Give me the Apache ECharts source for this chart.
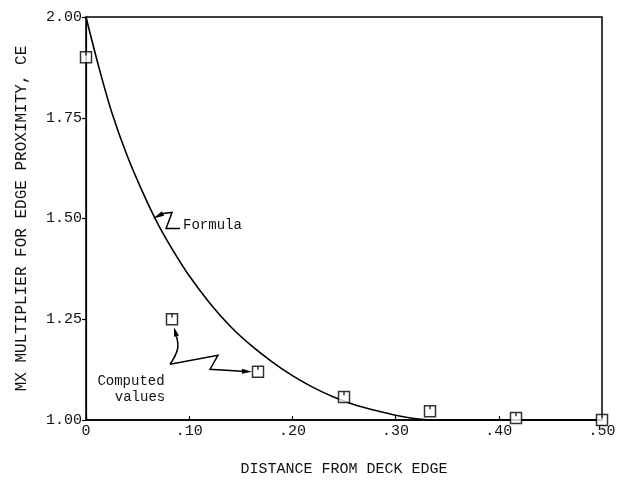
<!DOCTYPE html>
<html>
<head>
<meta charset="utf-8">
<script src="https://cdn.jsdelivr.net/npm/echarts@6/dist/echarts.min.js"></script>
<style>
  html, body { margin: 0; padding: 0; background: #fff; }
  #chart { width: 619px; height: 482px; }
</style>
</head>
<body>
<div id="chart"></div>
<script>
// Edge-proximity multiplier CE versus distance from deck edge
const formulaX = [0, 0.0125, 0.025, 0.04, 0.055, 0.07, 0.085, 0.10, 0.12, 0.14, 0.16, 0.18, 0.20, 0.22, 0.24, 0.26, 0.28, 0.30, 0.32, 0.34, 0.50];
const formulaY = [2.00, 1.875, 1.763, 1.655, 1.565, 1.485, 1.418, 1.358, 1.29, 1.232, 1.185, 1.145, 1.11, 1.081, 1.057, 1.038, 1.024, 1.012, 1.003, 1.00, 1.00];

const computedX = [0, 1 / 12, 2 / 12, 3 / 12, 4 / 12, 5 / 12, 6 / 12];
const computedY = [1.90, 1.25, 1.12, 1.057, 1.022, 1.005, 1.00];

const xTicks = [0, 0.1, 0.2, 0.3, 0.4, 0.5];
const yTicks = [1.00, 1.25, 1.50, 1.75, 2.00];

const FONT = '"Liberation Mono", "DejaVu Sans Mono", monospace';

const chart = echarts.init(document.getElementById('chart'), null, { renderer: 'canvas' });

const squareSymbol = 'path://M0,0L12,0L12,12L0,12Z M6,0.5L6,4';

chart.setOption({
  backgroundColor: '#fff',
  animation: false,
  grid: {
    left: 86, right: 17, top: 17, bottom: 58,
    show: true, borderColor: '#000', borderWidth: 1.5, backgroundColor: 'transparent'
  },
  xAxis: {
    type: 'value',
    min: xTicks[0], max: xTicks[xTicks.length - 1], interval: 0.1,
    name: 'DISTANCE FROM DECK EDGE',
    nameLocation: 'middle', nameGap: 42,
    nameTextStyle: { fontFamily: FONT, fontSize: 15, color: '#111' },
    axisLine: { show: true, lineStyle: { color: '#000', width: 1.5 } },
    axisTick: { show: true, inside: true, length: 4, lineStyle: { color: '#000', width: 1.2 } },
    splitLine: { show: false },
    axisLabel: {
      fontFamily: FONT, fontSize: 15, color: '#111', margin: 4,
      formatter: v => (v === 0 ? '0' : '.' + Math.round(v * 100))
    }
  },
  yAxis: {
    type: 'value',
    min: yTicks[0], max: yTicks[yTicks.length - 1], interval: 0.25,
    name: 'MX MULTIPLIER FOR EDGE PROXIMITY, CE',
    nameLocation: 'middle', nameGap: 56, nameRotate: 90,
    nameTextStyle: { fontFamily: FONT, fontSize: 16, color: '#111' },
    axisLine: { show: true, lineStyle: { color: '#000', width: 1.2 } },
    axisTick: { show: true, inside: false, length: 4, lineStyle: { color: '#000', width: 1.2 } },
    splitLine: { show: false },
    axisLabel: {
      fontFamily: FONT, fontSize: 15, color: '#111', margin: 4,
      formatter: v => v.toFixed(2)
    }
  },
  series: [
    {
      name: 'Formula',
      type: 'line',
      data: formulaX.map((x, i) => [x, formulaY[i]]),
      smooth: 0.3,
      showSymbol: false,
      lineStyle: { color: '#000', width: 1.6 },
      z: 3
    },
    {
      name: 'Computed values',
      type: 'scatter',
      data: computedX.map((x, i) => [x, computedY[i]]),
      symbol: squareSymbol,
      symbolSize: 11,
      itemStyle: { color: '#fff', borderColor: '#000', borderWidth: 1.5 },
      z: 4
    }
  ]
});

// Hand-drawn leader arrows and callout texts, anchored to the plotted marks
function drawCallouts() {
  const px = (x, y) => chart.convertToPixel({ gridIndex: 0 }, [x, y]);
  const add = (p, dx, dy) => [p[0] + dx, p[1] + dy];

  // arrow target on the formula curve
  const fTip = px(0.064, 1.50);
  const c1 = px(computedX[1], computedY[1]);
  const c2 = px(computedX[2], computedY[2]);

  const head = (tip, base, w) => {
    const dx = base[0] - tip[0], dy = base[1] - tip[1];
    const len = Math.hypot(dx, dy) || 1;
    const nx = -dy / len * w, ny = dx / len * w;
    return {
      type: 'polygon',
      shape: { points: [tip, [base[0] + nx, base[1] + ny], [base[0] - nx, base[1] - ny]] },
      style: { fill: '#000' }, z: 10
    };
  };
  const line = (pts, smooth) => ({
    type: 'polyline',
    shape: { points: pts, smooth: smooth || 0 },
    style: { stroke: '#000', lineWidth: 1.5, fill: null }, z: 10
  });
  const text = (p, s, align) => ({
    type: 'text', x: p[0], y: p[1],
    style: { text: s, fill: '#111', font: '14px ' + FONT, align: align || 'left', verticalAlign: 'middle' },
    z: 10
  });

  // "Formula" leader
  const fTipP = add(fTip, 1, 0);
  const fBase = add(fTip, 11, -5);
  const elements = [
    head(fTipP, fBase, 2.5),
    line([fBase, add(fTip, 20, -6), add(fTip, 14, 10), add(fTip, 28, 10)]),
    text(add(fTip, 31, 7), 'Formula')
  ];

  // "Computed values" leaders
  const t1 = add(c1, 2, 8);
  const b1 = add(c1, 4.5, 17);
  const t2 = add(c2, -6, 0);
  const b2 = add(c2, -16, -0.5);
  elements.push(
    head(t1, b1, 2.5),
    line([b1, add(c1, 5.5, 30), add(c1, -2, 45)], 0.4),
    line([add(c1, -2, 45), add(c1, 46, 36), add(c1, 38, 50), b2]),
    head(t2, b2, 2.5),
    text(add(c1, -41, 62), 'Computed', 'center'),
    text(add(c1, -32, 78), 'values', 'center')
  );

  chart.setOption({ graphic: { elements: elements } });
}
drawCallouts();
</script>
</body>
</html>
